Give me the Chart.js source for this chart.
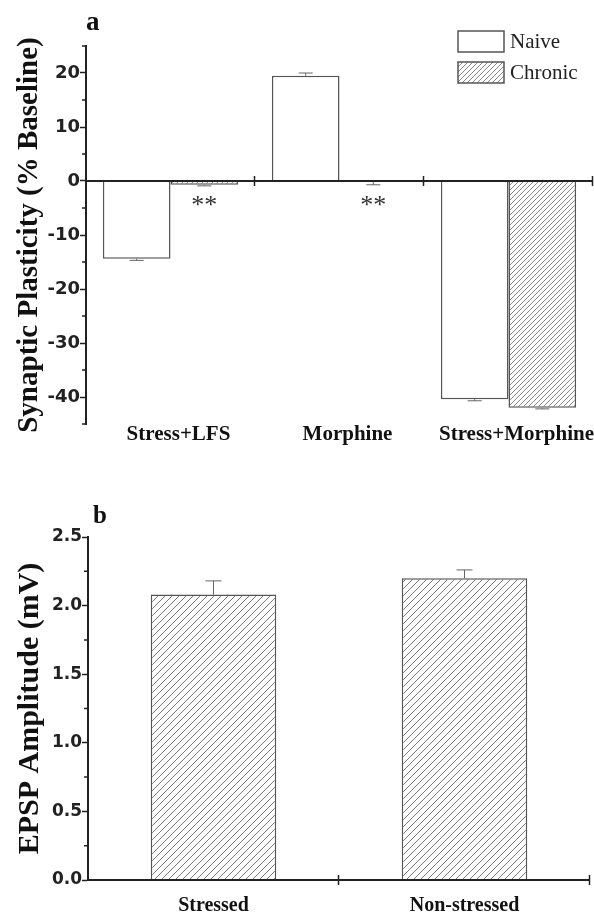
<!DOCTYPE html>
<html>
<head>
<meta charset="utf-8">
<script src="https://cdn.jsdelivr.net/npm/chart.js@4.4.0/dist/chart.umd.min.js"></script>
<style>
body { margin: 0; background: #fff; width: 594px; height: 916px; position: relative; overflow: hidden; }
.panel { position: absolute; left: 0; width: 594px; }
#wrapA { top: 0; height: 460px; }
#wrapB { top: 460px; height: 456px; }
.letter { position: absolute; font-family: "Liberation Serif"; font-weight: bold; color: #111; }
</style>
</head>
<body>
<div class="panel" id="wrapA"><canvas id="chartA"></canvas></div>
<div class="panel" id="wrapB"><canvas id="chartB"></canvas></div>
<div class="letter" style="left:86px;top:6px;font-size:27px">a</div>
<div class="letter" style="left:93px;top:501px;font-size:25px">b</div>
<script>
// panel a
const categories = ['Stress+LFS', 'Morphine', 'Stress+Morphine'];
const naiveValues = [-14.4, 19.5, -40.4];
const naiveErrors = [0.3, 0.5, 0.3];
const chronicValues = [-0.7, -0.2, -42.0];
const chronicErrors = [0.2, 0.5, 0.2];
const marks = ['**', '**', ''];

// panel b
const groups = ['Stressed', 'Non-stressed'];
const epspValues = [2.08, 2.20];
const epspErrors = [0.10, 0.06];

const serif = 'Liberation Serif';
const sans = 'DejaVu Sans';
const ink = '#222';

function hatch(gap, color) {
    let c = document.createElement('canvas');
    c.width = gap; c.height = gap;
    let g = c.getContext('2d');
    g.fillStyle = '#fff';
    g.fillRect(0, 0, gap, gap);
    g.strokeStyle = color;
    g.lineWidth = 1;
    g.beginPath();
    g.moveTo(-1, gap + 1); g.lineTo(gap + 1, -1);
    g.moveTo(-1, 1); g.lineTo(1, -1);
    g.moveTo(gap - 1, gap + 1); g.lineTo(gap + 1, gap - 1);
    g.stroke();
    return g.createPattern(c, 'repeat');
}

// error bars, one sided, away from zero
const errorBars = {
    id: 'errorBars',
    afterDatasetsDraw(chart, args, opts) {
        const ctx = chart.ctx, y = chart.scales.y;
        ctx.save();
        ctx.strokeStyle = '#666';
        ctx.lineWidth = 1;
        chart.data.datasets.forEach((ds, i) => {
            chart.getDatasetMeta(i).data.forEach((bar, j) => {
                const v = ds.data[j], e = ds.errors[j];
                const tip = y.getPixelForValue(v < 0 ? v - e : v + e);
                ctx.beginPath();
                ctx.moveTo(bar.x, bar.y); ctx.lineTo(bar.x, tip);
                ctx.moveTo(bar.x - opts.cap, tip); ctx.lineTo(bar.x + opts.cap, tip);
                ctx.stroke();
            });
        });
        ctx.restore();
    }
};

// zero line, category boundary ticks and minor y ticks
const axisMarks = {
    id: 'axisMarks',
    afterDatasetsDraw(chart) {
        const ctx = chart.ctx, x = chart.scales.x, y = chart.scales.y, area = chart.chartArea;
        const y0 = y.getPixelForValue(0);
        ctx.save();
        ctx.strokeStyle = ink;
        ctx.lineWidth = 2;
        ctx.beginPath();
        ctx.moveTo(area.left, y0); ctx.lineTo(area.right, y0);
        ctx.stroke();
        ctx.lineWidth = 1.5;
        ctx.beginPath();
        for (let k = 1; k <= chart.data.labels.length; k++) {
            const px = Math.round(x.getPixelForValue(k - 0.5)) - 0.5;
            ctx.moveTo(px, y0 - 5); ctx.lineTo(px, y0 + 5);
        }
        y.ticks.forEach(t => {
            if (t.label === '') {
                const py = y.getPixelForValue(t.value);
                ctx.moveTo(area.left, py); ctx.lineTo(area.left - 4, py);
            }
        });
        ctx.stroke();
        ctx.restore();
    }
};

const legendBoxes = {
    id: 'legendBoxes',
    afterDraw(chart) {
        const ctx = chart.ctx, area = chart.chartArea;
        ctx.save();
        chart.data.datasets.forEach((ds, i) => {
            const bx = area.right - 135, by = area.top - 15 + i * 31;
            ctx.fillStyle = ds.backgroundColor;
            ctx.fillRect(bx, by, 46, 21);
            ctx.strokeStyle = '#555';
            ctx.lineWidth = 1.5;
            ctx.strokeRect(bx, by, 46, 21);
            ctx.fillStyle = '#222';
            ctx.font = '21px "' + serif + '"';
            ctx.textBaseline = 'middle';
            ctx.fillText(ds.label, bx + 52, by + 11);
        });
        ctx.restore();
    }
};

const asterisks = {
    id: 'asterisks',
    afterDatasetsDraw(chart) {
        const ctx = chart.ctx, y0 = chart.scales.y.getPixelForValue(0);
        const meta = chart.getDatasetMeta(1);
        ctx.save();
        ctx.fillStyle = '#333';
        ctx.font = '26px "' + serif + '"';
        ctx.textAlign = 'center';
        ctx.textBaseline = 'alphabetic';
        marks.forEach((m, i) => {
            if (m) ctx.fillText(m, meta.data[i].x, y0 + 32);
        });
        ctx.restore();
    }
};

let chartA = new Chart(document.getElementById('chartA'), {
    type: 'bar',
    data: {
        labels: categories,
        datasets: [
            { label: 'Naive', data: naiveValues, errors: naiveErrors, backgroundColor: '#fff', borderColor: '#555', borderWidth: 1.5 },
            { label: 'Chronic', data: chronicValues, errors: chronicErrors, backgroundColor: hatch(5, '#8a8a8a'), borderColor: '#555', borderWidth: 1.5 }
        ]
    },
    options: {
        responsive: true,
        maintainAspectRatio: false,
        animation: false,
        layout: { padding: { top: 46, right: 1, left: 0, bottom: 0 } },
        datasets: { bar: { categoryPercentage: 0.8, barPercentage: 1.0 } },
        plugins: {
            legend: { display: false },
            tooltip: { enabled: false },
            errorBars: { cap: 7 }
        },
        scales: {
            x: {
                grid: { display: false, drawTicks: false },
                border: { display: false },
                ticks: { font: { family: serif, weight: 'bold', size: 21 }, color: '#111', padding: -2, labelOffset: 8, maxRotation: 0, autoSkip: false },
                afterFit: s => { s.height = 36; }
            },
            y: {
                min: -45,
                max: 25,
                border: { color: ink, width: 2 },
                grid: { drawOnChartArea: false, color: 'rgba(0,0,0,0)', tickLength: 6, tickWidth: 1.5,
                        tickColor: c => (c.tick && c.tick.value % 10 === 0) ? ink : 'rgba(0,0,0,0)' },
                ticks: { stepSize: 5, autoSkip: false, padding: 0, color: ink,
                         font: { family: sans, weight: 'bold', size: 18 },
                         callback: v => v % 10 === 0 ? v : '' },
                title: { display: true, text: 'Synaptic Plasticity (% Baseline)', color: '#111',
                         font: { family: serif, weight: 'bold', size: 29 }, padding: { top: 12, bottom: 0 } },
                afterFit: s => { s.width = 86; }
            }
        }
    },
    plugins: [axisMarks, errorBars, legendBoxes, asterisks]
});

let chartB = new Chart(document.getElementById('chartB'), {
    type: 'bar',
    data: {
        labels: groups,
        datasets: [
            { label: 'EPSP', data: epspValues, errors: epspErrors, backgroundColor: hatch(7, '#7a7a7a'), borderColor: '#555', borderWidth: 1.5 }
        ]
    },
    options: {
        responsive: true,
        maintainAspectRatio: false,
        animation: false,
        layout: { padding: { top: 77, right: 4, left: 0, bottom: 0 } },
        datasets: { bar: { categoryPercentage: 0.5, barPercentage: 1.0 } },
        plugins: {
            legend: { display: false },
            tooltip: { enabled: false },
            errorBars: { cap: 8 }
        },
        scales: {
            x: {
                grid: { display: false, drawTicks: false },
                border: { display: false },
                ticks: { font: { family: serif, weight: 'bold', size: 20 }, color: '#111', padding: 14, maxRotation: 0, autoSkip: false },
                afterFit: s => { s.height = 36; }
            },
            y: {
                min: 0,
                max: 2.5,
                border: { color: ink, width: 2 },
                grid: { drawOnChartArea: false, color: 'rgba(0,0,0,0)', tickLength: 6, tickWidth: 1.5,
                        tickColor: c => (c.tick && Math.abs(c.tick.value * 2 - Math.round(c.tick.value * 2)) < 1e-6) ? ink : 'rgba(0,0,0,0)' },
                ticks: { stepSize: 0.25, autoSkip: false, padding: 0, color: ink,
                         font: { family: sans, weight: 'bold', size: 17 },
                         callback: v => Math.abs(v * 2 - Math.round(v * 2)) < 1e-6 ? v.toFixed(1) : '' },
                title: { display: true, text: 'EPSP Amplitude (mV)', color: '#111',
                         font: { family: serif, weight: 'bold', size: 30 }, padding: { top: 12, bottom: 0 } },
                afterFit: s => { s.width = 88; }
            }
        }
    },
    plugins: [axisMarks, errorBars]
});
</script>
</body>
</html>
